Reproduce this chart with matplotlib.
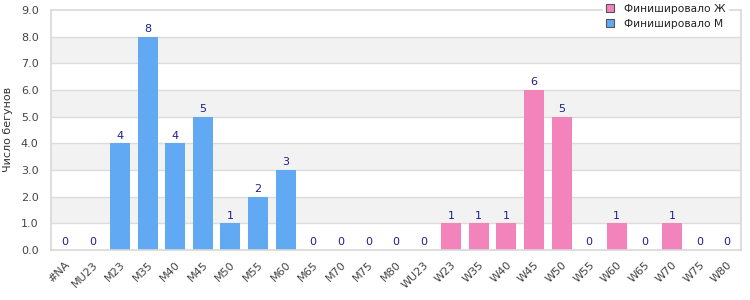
import matplotlib
matplotlib.use("Agg")
import matplotlib.pyplot as plt
from matplotlib.patches import Patch

plt.rcParams['font.family'] = ['DejaVu Sans']

categories = ["#NA", "MU23", "M23", "M35", "M40", "M45", "M50", "M55", "M60", "M65",
              "M70", "M75", "M80", "WU23", "W23", "W35", "W40", "W45", "W50", "W55",
              "W60", "W65", "W70", "W75", "W80"]
values = [0, 0, 4, 8, 4, 5, 1, 2, 3, 0, 0, 0, 0, 0, 1, 1, 1, 6, 5, 0, 1, 0, 1, 0, 0]
gender = ["M"] * 13 + ["W"] * 12

blue = "#62a9f3"
pink = "#f283bb"
colors = [blue if g == "M" else pink for g in gender]

fig = plt.figure(figsize=(7.5, 3), dpi=100)
ax = fig.add_axes([0.068, 0.167, 0.92, 0.80])

x = list(range(len(categories)))
ax.set_xlim(-0.5, len(categories) - 0.5)
ax.set_ylim(0, 9)

for lo in [1, 3, 5, 7]:
    ax.axhspan(lo, lo + 1, color="#f2f2f2", zorder=0, lw=0)
for yv in range(1, 9):
    ax.axhline(yv, color="#dcdcdc", lw=1, zorder=1)

ax.bar(x, values, width=0.72, color=colors, zorder=2)
for xi, v in zip(x, values):
    ax.text(xi, v + 0.17, str(v), ha="center", va="baseline", fontsize=8,
            color="#1f1f8a", zorder=3)

ax.set_yticks(range(0, 10))
ax.set_yticklabels([f"{v:.1f}" for v in range(0, 10)])
ax.set_xticks(x)
ax.set_xticklabels(categories, rotation=45, ha="right", rotation_mode="anchor")
ax.tick_params(axis="both", length=0, labelsize=8, labelcolor="#444444")
ax.tick_params(axis="x", pad=7)
ax.tick_params(axis="y", pad=9)
for s in ax.spines.values():
    s.set_color("#d8d8d8")
    s.set_linewidth(1.2)

ax.set_ylabel("Число бегунов", fontsize=8, color="#333333")
ax.yaxis.set_label_coords(-0.055, 0.5)

handles = [Patch(facecolor=pink, edgecolor="#555555", lw=0.8, label="Финишировало Ж"),
           Patch(facecolor=blue, edgecolor="#555555", lw=0.8, label="Финишировало М")]
leg = ax.legend(handles=handles, loc="upper right", bbox_to_anchor=(0.99, 1.06),
                frameon=True, fontsize=7.7, handlelength=0.75, handleheight=0.75,
                handletextpad=0.9, borderpad=0.3, labelspacing=0.45)
leg.get_frame().set_edgecolor("none")
leg.get_frame().set_facecolor("white")
leg.get_frame().set_alpha(1)
for t in leg.get_texts():
    t.set_color("#222222")

fig.savefig("out.png", dpi=100)
